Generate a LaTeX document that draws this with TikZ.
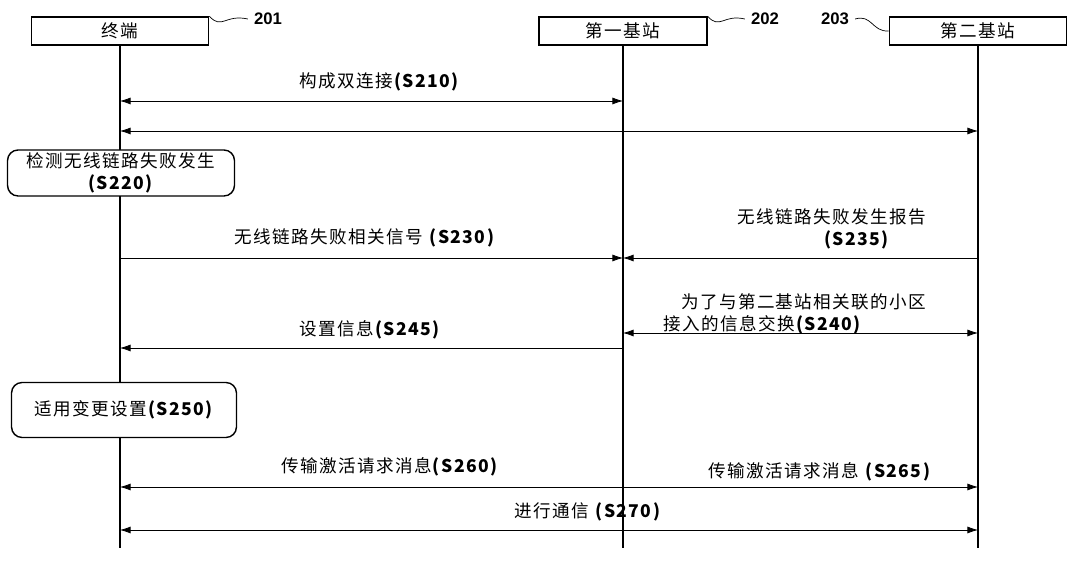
\documentclass[tikz,border=0pt]{standalone}
\usepackage{fontspec}
\setmainfont{Liberation Sans}
\newfontfamily\cjk[LetterSpace=8]{Noto Sans CJK SC}
\usetikzlibrary{arrows.meta}
\begin{document}
\begin{tikzpicture}[x=0.02cm,y=-0.02cm,
  ent/.style={draw,thick,fill=white,minimum width=3.55cm,minimum height=0.56cm,inner sep=0pt,font=\cjk\fontsize{10}{12}\selectfont},
  life/.style={thick},
  msg/.style={thin,-{Latex[length=6pt,width=4pt]}},
  dmsg/.style={thin,{Latex[length=6pt,width=4pt]}-{Latex[length=6pt,width=4pt]}},
  lbl/.style={font=\cjk\fontsize{10}{12.5}\selectfont,inner sep=1pt,align=center},
  rbox/.style={draw,thick,fill=white,rounded corners=6pt,font=\cjk\fontsize{10}{12.5}\selectfont,align=center,inner sep=1pt},
  tag/.style={font=\bfseries\fontsize{9.5}{11}\selectfont}]
\useasboundingbox (0,0) rectangle (1080,563);
\coordinate (tE) at (120,548); \coordinate (b1E) at (623,548); \coordinate (b2E) at (978,548);
\node[ent] (t) at (120,31) {终端};
\node[ent,minimum width=3.36cm] (b1) at (623,31) {第一基站};
\node[ent] (b2) at (978,31) {第二基站};
\draw[life] (t.south) -- (tE);
\draw[life] (b1.south) -- (b1E);
\draw[life] (b2.south) -- (b2E);
\node[tag] (n201) at (268,19) {201};
\node[tag] (n202) at (765,19) {202};
\node[tag] (n203) at (835,19) {203};
\draw (t.north east) .. controls (222,30) and (225,14) .. (n201.west);
\draw (b1.north east) .. controls (720,30) and (723,14) .. (n202.west);
\draw (n203.east) .. controls (872,14) and (872,32) .. (b2.west);
% S210
\coordinate (a1) at (120,101); \coordinate (a2) at (623,101);
\draw[dmsg] (a1) -- (a2);
\node[lbl] (l210) at (380,82) {构成双连接\textbf{(S210)}};
\coordinate (c1) at (120,131); \coordinate (c2) at (978,131);
\draw[dmsg] (c1) -- (c2);
% S220
\node[rbox,minimum width=4.54cm,minimum height=0.92cm] (s220) at (121,173) {检测无线链路失败发生\\\textbf{(S220)}};
% S230
\coordinate (d1) at (120,258); \coordinate (d2) at (623,258); \coordinate (d3) at (978,258);
\draw[msg] (d1) -- (d2);
\node[lbl] (l230) at (365,238) {无线链路失败相关信号 \textbf{(S230)}};
\draw[msg] (d3) -- (d2);
\node[lbl] (l235) at (832,229) {无线链路失败发生报告\\\hspace*{1.0cm}\textbf{(S235)}};
% S240
\coordinate (e1) at (623,333); \coordinate (e2) at (978,333);
\draw[dmsg] (e1) -- (e2);
\node[lbl,align=left] (l240) at (795,314) {\hspace*{0.35cm}为了与第二基站相关联的小区\\接入的信息交换\textbf{(S240)}};
% S245
\coordinate (f1) at (623,348); \coordinate (f2) at (120,348);
\draw[msg] (f1) -- (f2);
\node[lbl] (l245) at (370,330) {设置信息\textbf{(S245)}};
% S250
\node[rbox,minimum width=4.5cm,minimum height=1.1cm] (s250) at (124,410) {适用变更设置\textbf{(S250)}};
% S260/S265
\coordinate (g1) at (120,487); \coordinate (g2) at (978,487);
\draw[dmsg] (g1) -- (g2);
\node[lbl] (l260) at (390,467) {传输激活请求消息\textbf{(S260)}};
\node[lbl] (l265) at (820,472) {传输激活请求消息 \textbf{(S265)}};
% S270
\coordinate (h1) at (120,530); \coordinate (h2) at (978,530);
\draw[dmsg] (h1) -- (h2);
\node[lbl] (l270) at (588,512) {进行通信 \textbf{(S270)}};
\end{tikzpicture}
\end{document}
